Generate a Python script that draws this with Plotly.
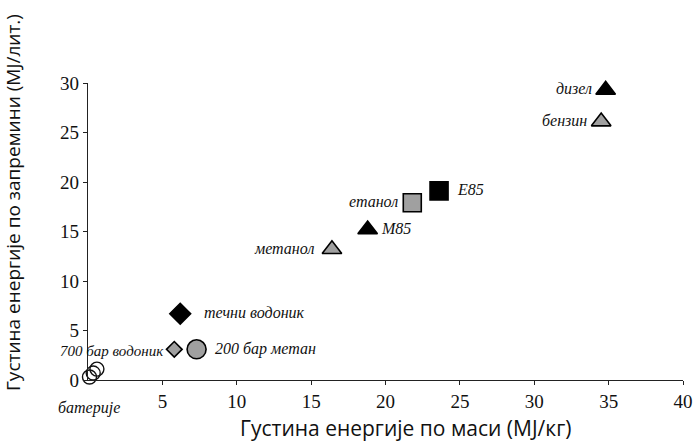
import plotly.graph_objects as go

names = ["дизел", "бензин", "E85", "етанол", "M85", "метанол",
         "течни водоник", "700 бар водоник", "200 бар метан"]
mass = [34.8, 34.5, 23.6, 21.8, 18.8, 16.4, 6.2, 5.8, 7.3]
volume = [29.3, 26.1, 19.1, 17.9, 15.2, 13.2, 6.7, 3.1, 3.1]
symbols = ["triangle-up", "triangle-up", "square", "square", "triangle-up",
           "triangle-up", "diamond", "diamond", "circle"]

battery_mass = [0.1, 0.35, 0.6]
battery_volume = [0.3, 0.7, 1.1]
battery_label = "батерије"

x_title = "Густина енергије по маси (MJ/кг)"
y_title = "Густина енергије по запремини (MJ/лит.)"
x_ticks = [5, 10, 15, 20, 25, 30, 35, 40]
y_ticks = [0, 5, 10, 15, 20, 25, 30]

# styling
fills = ["#000000", "#a0a0a0", "#000000", "#a0a0a0", "#000000",
         "#a0a0a0", "#000000", "#a0a0a0", "#a0a0a0"]
sizes = [17, 17, 18, 18, 17, 17, 16, 12, 19]
label_anchor = ["right", "right", "left", "right", "left", "right", "left", "right", "left"]
label_dx = [-12, -12, 16, -12, 11, -16, 22, -8, 16]
label_dy = [1, 1, 1, 1, 1, 1, 1, -2, 0]
label_size = [16, 16, 16, 16, 16, 16, 16, 15, 16]

SERIF = "Liberation Serif"
SANS = "Open Sans"

fig = go.Figure()
fig.add_trace(go.Scatter(
    x=battery_mass, y=battery_volume, mode="markers",
    marker=dict(symbol="circle-open", size=14, color="#111",
                line=dict(color="#111", width=1.4)),
    cliponaxis=False, showlegend=False, hoverinfo="skip"))
fig.add_trace(go.Scatter(
    x=mass, y=volume, mode="markers",
    marker=dict(symbol=symbols, size=sizes, color=fills, opacity=1,
                line=dict(color="#000", width=1.6)),
    cliponaxis=False, showlegend=False, hoverinfo="skip"))

for n, xv, yv, anc, dx, dy, fs in zip(names, mass, volume, label_anchor,
                                      label_dx, label_dy, label_size):
    fig.add_annotation(x=xv, y=yv, text=f"<i>{n}</i>", showarrow=False,
                       xanchor=anc, yanchor="middle", xshift=dx, yshift=dy,
                       font=dict(family=SERIF, size=fs, color="#111"))
fig.add_annotation(x=battery_mass[0], y=battery_volume[0], text=f"<i>{battery_label}</i>",
                   showarrow=False, xanchor="center", yanchor="top", yshift=-20,
                   xshift=0, font=dict(family=SERIF, size=16, color="#111"))

# axis titles
fig.add_annotation(xref="paper", yref="paper", x=0.534, y=-0.163, text=x_title,
                   showarrow=False, xanchor="center", yanchor="middle",
                   font=dict(family=SANS, size=21, color="#111"))
fig.add_annotation(xref="paper", yref="paper", x=-0.126, y=0.596, text=y_title,
                   showarrow=False, xanchor="center", yanchor="middle", textangle=-90,
                   font=dict(family=SANS, size=19, color="#111"))

axis_font = dict(family=SERIF, size=19, color="#111")
fig.update_layout(
    width=697, height=443,
    margin=dict(l=88, r=14, t=83, b=63),
    paper_bgcolor="white", plot_bgcolor="white",
    xaxis=dict(range=[0, 40], tickvals=x_ticks, showline=True, linecolor="#222",
               linewidth=1.3, ticks="outside", ticklen=4, tickcolor="#222",
               showgrid=False, zeroline=False, tickfont=axis_font, automargin=False),
    yaxis=dict(range=[0, 30], tickvals=y_ticks, showline=True, linecolor="#222",
               linewidth=1.3, ticks="outside", ticklen=4, tickcolor="#222",
               showgrid=False, zeroline=False, tickfont=axis_font, automargin=False),
)
fig.write_html("out.html", config={"displayModeBar": False},
               post_script="document.body.style.margin='0';document.body.style.padding='0';")
